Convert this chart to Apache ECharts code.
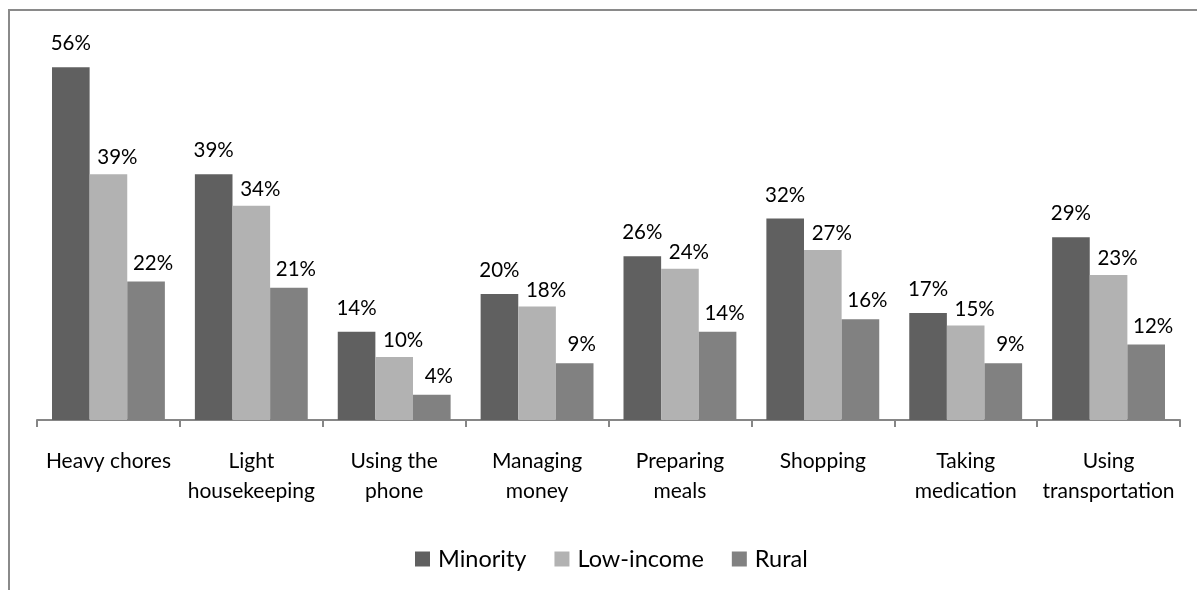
<!DOCTYPE html>
<html>
<head>
<meta charset="utf-8">
<style>
  html, body { margin: 0; padding: 0; background: #fff; }
  #chart { width: 1197px; height: 590px; }
</style>
<script src="https://cdn.jsdelivr.net/npm/echarts@6/dist/echarts.min.js"></script>
</head>
<body>
<div id="chart"></div>
<script>
// Share of respondents needing help with each daily activity, by group
const categories = [
  'Heavy chores',
  'Light\nhousekeeping',
  'Using the\nphone',
  'Managing\nmoney',
  'Preparing\nmeals',
  'Shopping',
  'Taking\nmedication',
  'Using\ntransportation'
];
const minority  = [56, 39, 14, 20, 26, 32, 17, 29];
const lowIncome = [39, 34, 10, 18, 24, 27, 15, 23];
const rural     = [22, 21, 4, 9, 14, 16, 9, 12];

const FONT = 'Lato, "Noto Sans", sans-serif';

// Value labels sit above each bar, nudged a little right for the lighter series
function barSeries(name, data, color, labelDx, labelGap) {
  return {
    name: name,
    type: 'bar',
    data: data,
    barGap: '0%',
    barCategoryGap: '21%',
    itemStyle: { color: color },
    label: {
      show: true,
      position: 'top',
      distance: labelGap,
      offset: [labelDx, 0],
      formatter: '{c}%',
      color: '#000',
      fontFamily: FONT,
      fontSize: 20.5
    }
  };
}

const chart = echarts.init(document.getElementById('chart'), null, { renderer: 'canvas' });
chart.setOption({
  animation: false,
  backgroundColor: '#fff',
  grid: { left: 37, right: 17, top: 42, bottom: 170, containLabel: false },
  legend: {
    data: ['Minority', 'Low-income', 'Rural'],
    top: 547,
    left: 415,
    padding: 0,
    itemWidth: 15,
    itemHeight: 15,
    itemGap: 28,
    icon: 'rect',
    textStyle: { fontFamily: FONT, fontSize: 23.5, color: '#000', padding: [0, 0, 0, 3] }
  },
  xAxis: {
    type: 'category',
    data: categories,
    boundaryGap: true,
    axisLine: { lineStyle: { color: '#868686', width: 2 } },
    axisTick: { show: true, length: 7, lineStyle: { color: '#868686', width: 2 } },
    axisLabel: {
      interval: 0,
      margin: 26,
      color: '#000',
      fontFamily: FONT,
      fontSize: 21,
      lineHeight: 30
    }
  },
  yAxis: {
    type: 'value',
    min: 0,
    max: 60,
    show: false,
    splitLine: { show: false }
  },
  graphic: [
    {
      type: 'polyline',
      silent: true,
      shape: { points: [[9, 590], [9, 10], [1197, 10]] },
      style: { stroke: '#8a8a8a', lineWidth: 2, fill: null }
    }
  ],
  series: [
    barSeries('Minority', minority, '#606060', 0, 13),
    barSeries('Low-income', lowIncome, '#b2b2b2', 9, 6),
    barSeries('Rural', rural, '#818181', 7, 8)
  ]
});
</script>
</body>
</html>
